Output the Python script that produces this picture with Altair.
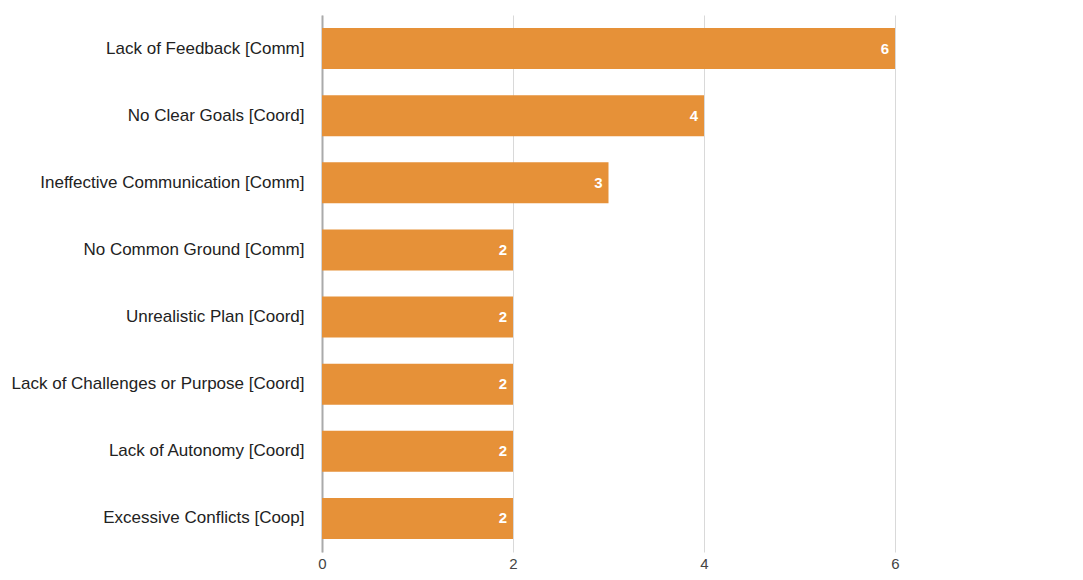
import altair as alt
import pandas as pd

categories = [
    "Lack of Feedback [Comm]",
    "No Clear Goals [Coord]",
    "Ineffective Communication [Comm]",
    "No Common Ground [Comm]",
    "Unrealistic Plan [Coord]",
    "Lack of Challenges or Purpose [Coord]",
    "Lack of Autonomy [Coord]",
    "Excessive Conflicts [Coop]",
]
values = [6, 4, 3, 2, 2, 2, 2, 2]
x_ticks = [0, 2, 4, 6, 8]

df = pd.DataFrame({"cat": categories, "val": values})

FONT = "Liberation Sans"

y_enc = alt.Y(
    "cat:N",
    sort=categories,
    title=None,
    scale=alt.Scale(paddingInner=0.39, paddingOuter=0.195),
    axis=alt.Axis(
        ticks=False,
        domain=True,
        domainColor="#aaaaaa",
        domainWidth=2,
        labelPadding=18,
        labelLimit=400,
        labelFont=FONT,
        labelFontSize=17,
        labelColor="#222222",
    ),
)

x_enc = alt.X(
    "val:Q",
    title=None,
    scale=alt.Scale(domain=[0, 8], nice=False),
    axis=alt.Axis(
        values=x_ticks,
        format="d",
        ticks=False,
        domain=False,
        grid=True,
        gridColor="#d9d9d9",
        labelFlush=False,
        labelPadding=4,
        labelFont=FONT,
        labelFontSize=15,
        labelColor="#444444",
    ),
)

bars = alt.Chart(df).mark_bar(color="#E69138").encode(x=x_enc, y=y_enc)

labels = alt.Chart(df).mark_text(
    align="right", baseline="middle", dx=-6, color="white",
    font=FONT, fontSize=15, fontWeight="bold"
).encode(
    x=alt.X("val:Q", scale=alt.Scale(domain=[0, 8], nice=False)),
    y=alt.Y("cat:N", sort=categories),
    text="val:Q",
)

chart = (bars + labels).properties(
    width=764,
    height=537,
    autosize=alt.AutoSizeParams(type="none"),
    padding={"left": 314, "top": 7, "right": -11, "bottom": 20},
).configure_view(stroke=None)

chart.save("out.html", embed_options={"renderer": "svg", "actions": False})
